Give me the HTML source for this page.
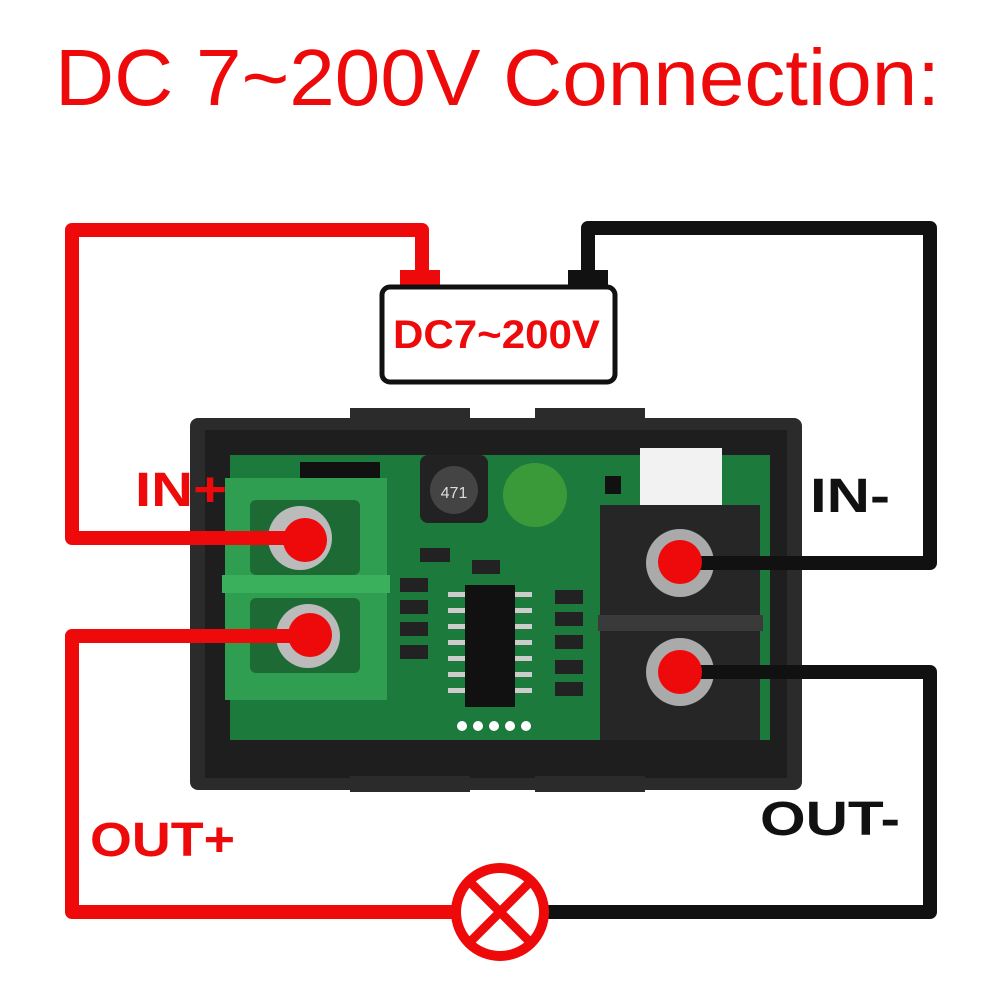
<!DOCTYPE html>
<html><head><meta charset="utf-8"><style>
html,body{margin:0;padding:0;background:#fff;}
svg{display:block;}
</style></head><body>
<svg width="1000" height="1000" viewBox="0 0 1000 1000" xmlns="http://www.w3.org/2000/svg">
<rect width="1000" height="1000" fill="#fff"/>
<text x="55" y="105" textLength="885" lengthAdjust="spacingAndGlyphs" font-family="Liberation Sans, sans-serif" font-size="80" fill="#ee0a0a">DC 7~200V  Connection:</text>

<!-- module frame -->
<rect x="190" y="418" width="612" height="372" rx="8" fill="#2b2b2b"/>
<rect x="205" y="430" width="582" height="348" fill="#1e1e1e"/>
<rect x="350" y="408" width="120" height="14" fill="#2b2b2b"/>
<rect x="535" y="408" width="110" height="14" fill="#2b2b2b"/>
<rect x="350" y="776" width="120" height="16" fill="#2b2b2b"/>
<rect x="535" y="776" width="110" height="16" fill="#2b2b2b"/>
<!-- PCB -->
<rect x="230" y="455" width="540" height="285" fill="#1c7a3c"/>
<rect x="300" y="462" width="80" height="20" fill="#111"/>
<rect x="420" y="455" width="68" height="68" rx="8" fill="#222"/>
<circle cx="454" cy="490" r="24" fill="#444"/>
<text x="454" y="498" text-anchor="middle" font-family="Liberation Sans, sans-serif" font-size="16" fill="#ddd">471</text>
<circle cx="535" cy="495" r="32" fill="#3a9a3a"/>
<rect x="640" y="448" width="82" height="70" fill="#f2f2f2"/>
<rect x="605" y="476" width="16" height="18" fill="#111"/>
<!-- chip -->
<rect x="465" y="585" width="50" height="122" fill="#111"/>
<g fill="#ccc">
<rect x="448" y="592" width="17" height="5"/><rect x="448" y="608" width="17" height="5"/><rect x="448" y="624" width="17" height="5"/><rect x="448" y="640" width="17" height="5"/><rect x="448" y="656" width="17" height="5"/><rect x="448" y="672" width="17" height="5"/><rect x="448" y="688" width="17" height="5"/>
<rect x="515" y="592" width="17" height="5"/><rect x="515" y="608" width="17" height="5"/><rect x="515" y="624" width="17" height="5"/><rect x="515" y="640" width="17" height="5"/><rect x="515" y="656" width="17" height="5"/><rect x="515" y="672" width="17" height="5"/><rect x="515" y="688" width="17" height="5"/>
</g>
<g fill="#222">
<rect x="400" y="578" width="28" height="14"/><rect x="400" y="600" width="28" height="14"/><rect x="400" y="622" width="28" height="14"/><rect x="400" y="645" width="28" height="14"/><rect x="420" y="548" width="30" height="14"/><rect x="472" y="560" width="28" height="14"/>
<rect x="555" y="590" width="28" height="14"/><rect x="555" y="612" width="28" height="14"/><rect x="555" y="635" width="28" height="14"/><rect x="555" y="660" width="28" height="14"/><rect x="555" y="682" width="28" height="14"/>
</g>
<g fill="#fff"><circle cx="462" cy="726" r="5"/><circle cx="478" cy="726" r="5"/><circle cx="494" cy="726" r="5"/><circle cx="510" cy="726" r="5"/><circle cx="526" cy="726" r="5"/></g>
<!-- green terminal -->
<rect x="225" y="478" width="162" height="222" fill="#2f9e50"/>
<rect x="222" y="575" width="168" height="18" fill="#3bb05c"/>
<rect x="250" y="500" width="110" height="75" rx="6" fill="#1d6a35"/>
<rect x="250" y="598" width="110" height="75" rx="6" fill="#1d6a35"/>
<circle cx="300" cy="538" r="32" fill="#bbb"/>
<circle cx="308" cy="636" r="32" fill="#bbb"/>
<!-- black terminal -->
<rect x="600" y="505" width="160" height="235" fill="#262626"/>
<rect x="598" y="615" width="165" height="16" fill="#3a3a3a"/>
<circle cx="680" cy="563" r="34" fill="#aaa"/>
<circle cx="680" cy="672" r="34" fill="#aaa"/>

<!-- wires -->
<g fill="none" stroke-width="14" stroke-linejoin="round">
<polyline points="300,538 72,538 72,230 422,230 422,285" stroke="#ee0a0a"/>
<polyline points="308,636 72,636 72,912 455,912" stroke="#ee0a0a"/>
<polyline points="680,563 930,563 930,228 588,228 588,285" stroke="#111"/>
<polyline points="680,672 930,672 930,912 545,912" stroke="#111"/>
</g>
<rect x="400" y="270" width="40" height="18" fill="#ee0a0a"/>
<rect x="568" y="270" width="40" height="18" fill="#111"/>
<!-- battery box -->
<rect x="382" y="287" width="233" height="95" rx="8" fill="#fff" stroke="#111" stroke-width="5"/>
<text x="393" y="348" textLength="207" lengthAdjust="spacingAndGlyphs" font-family="Liberation Sans, sans-serif" font-weight="bold" font-size="40" fill="#ee0a0a">DC7~200V</text>

<!-- dots -->
<g fill="#ee0a0a"><circle cx="305" cy="540" r="22"/><circle cx="310" cy="635" r="22"/><circle cx="680" cy="562" r="22"/><circle cx="680" cy="672" r="22"/></g>

<!-- lamp -->
<circle cx="500" cy="912" r="44" fill="#fff" stroke="#ee0a0a" stroke-width="10"/>
<line x1="470" y1="882" x2="530" y2="942" stroke="#ee0a0a" stroke-width="9"/>
<line x1="530" y1="882" x2="470" y2="942" stroke="#ee0a0a" stroke-width="9"/>

<!-- labels -->
<g font-family="Liberation Sans, sans-serif" font-weight="bold" font-size="48">
<text x="135" y="506" textLength="92" lengthAdjust="spacingAndGlyphs" fill="#ee0a0a">IN+</text>
<text x="810" y="512" textLength="80" lengthAdjust="spacingAndGlyphs" fill="#111">IN-</text>
<text x="90" y="856" textLength="145" lengthAdjust="spacingAndGlyphs" fill="#ee0a0a">OUT+</text>
<text x="760" y="835" textLength="140" lengthAdjust="spacingAndGlyphs" fill="#111">OUT-</text>
</g>
</svg>
</body></html>
